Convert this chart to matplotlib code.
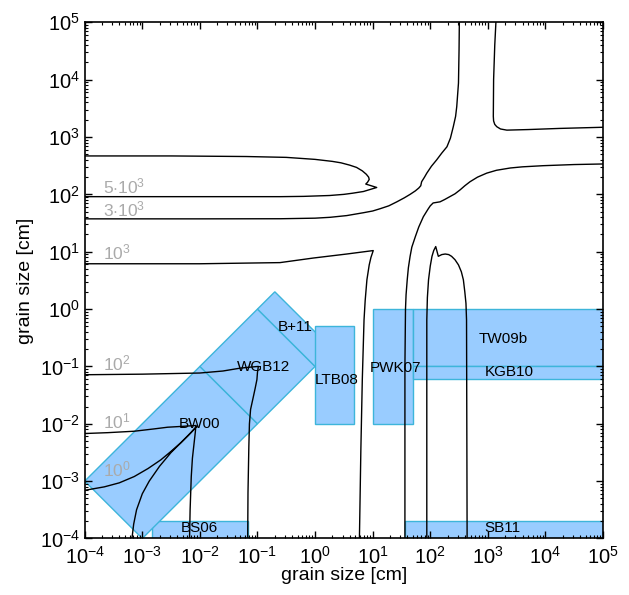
import matplotlib
matplotlib.use('Agg')
import matplotlib.pyplot as plt
import numpy as np
from matplotlib.ticker import LogLocator, NullFormatter

plt.rcParams['font.family'] = ['Liberation Sans', 'DejaVu Sans']
plt.rcParams['mathtext.fontset'] = 'custom'
plt.rcParams['mathtext.rm'] = 'Liberation Sans'
plt.rcParams['mathtext.it'] = 'Liberation Sans:italic'
plt.rcParams['mathtext.bf'] = 'Liberation Sans:bold'

# experiment regions, corners in cm (x grain, y grain)
bs06 = [(1.5e-3, 1e-4), (0.068, 1e-4), (0.068, 2e-4), (1.5e-3, 2e-4)]
bw00 = [(1e-4, 1e-3), (1e-2, 1e-1), (1e-1, 1e-2), (1e-3, 1e-4)]
wgb12 = [(1e-2, 1e-1), (1e-1, 1.0), (1.0, 1e-1), (1e-1, 1e-2)]
b11 = [(1e-1, 1.0), (0.2, 2.0), (2.0, 0.2), (1.0, 1e-1)]
ltb08 = [(1.0, 1e-2), (4.8, 1e-2), (4.8, 0.5), (1.0, 0.5)]
pwk07 = [(10.0, 1e-2), (50.0, 1e-2), (50.0, 1.0), (10.0, 1.0)]
tw09b = [(50.0, 0.1), (1e5, 0.1), (1e5, 1.0), (50.0, 1.0)]
kgb10 = [(50.0, 0.06), (1e5, 0.06), (1e5, 0.1), (50.0, 0.1)]
sb11 = [(36.0, 1e-4), (1e5, 1e-4), (1e5, 2e-4), (36.0, 2e-4)]
regions = [bs06, bw00, wgb12, b11, ltb08, pwk07, tw09b, kgb10, sb11]

region_names = ['BS06', 'BW00', 'WGB12', 'B+11', 'LTB08', 'PWK07', 'TW09b', 'KGB10', 'SB11']
name_x = [0.0098, 0.01, 0.13, 0.45, 2.4, 24.5, 1860, 2340, 1820]
name_y = [1.5e-4, 0.0098, 0.098, 0.48, 0.059, 0.095, 0.30, 0.081, 1.5e-4]

c5e3_x = [-4.0, -2.5, -1.2, -0.5, 0.0, 0.3, 0.45, 0.6, 0.72, 0.82, 0.89, 0.93, 0.94, 0.91, 0.88,
          1.07, 0.84, 0.65, 0.5, 0.25, -0.2, -0.6, -2.5, -4.0]
c5e3_y = [2.67, 2.67, 2.66, 2.645, 2.61, 2.575, 2.55, 2.51, 2.47, 2.41, 2.35, 2.30, 2.26, 2.21, 2.18,
          2.12, 2.05, 2.02, 2.00, 1.98, 1.965, 1.96, 1.96, 1.96]

c3e3_x = [-4.0, -2.0, -0.6, 0.0, 0.26, 0.55, 0.84, 1.0, 1.13, 1.28, 1.42, 1.55, 1.65, 1.74, 1.8, 1.835,
          1.85, 1.9, 1.94, 2.02, 2.11, 2.2, 2.29, 2.35, 2.40, 2.44, 2.46, 2.49, 2.50, 2.505]
c3e3_y = [1.573, 1.573, 1.575, 1.585, 1.60, 1.63, 1.68, 1.71, 1.75, 1.80, 1.87, 1.94, 2.0, 2.06, 2.11, 2.15,
          2.22, 2.30, 2.37, 2.49, 2.60, 2.72, 2.83, 2.98, 3.18, 3.36, 3.53, 3.94, 4.52, 5.0]

cross_x = [5.0, 4.5, 3.96, 3.6, 3.39, 3.15, 2.98, 2.82, 2.69, 2.6, 2.52, 2.43, 2.34, 2.25, 2.17, 2.11,
           2.05, 2.0, 1.96, 1.88, 1.80, 1.74, 1.68, 1.65, 1.62, 1.60, 1.58, 1.57, 1.56, 1.56]
cross_y = [2.53, 2.52, 2.50, 2.48, 2.46, 2.42, 2.37, 2.30, 2.22, 2.15, 2.08, 2.01, 1.96, 1.91, 1.87, 1.86,
           1.85, 1.80, 1.74, 1.61, 1.43, 1.26, 1.08, 0.92, 0.72, 0.51, 0.25, 0.0, -1.0, -4.0]

corner_x = [3.14, 3.12, 3.10, 3.095, 3.10, 3.12, 3.155, 3.22, 3.33, 3.7, 4.25, 5.0]
corner_y = [5.0, 4.6, 4.0, 3.36, 3.28, 3.22, 3.18, 3.14, 3.12, 3.13, 3.15, 3.17]

c1e3_x = [-4.0, -2.0, -0.61, -0.03, 0.55, 1.01, 0.97, 0.94, 0.90, 0.87, 0.85, 0.82, 0.795, 0.77]
c1e3_y = [0.79, 0.79, 0.81, 0.89, 0.96, 1.02, 0.9, 0.77, 0.51, 0.15, -0.19, -1.23, -2.45, -4.0]

arch_x = [1.94, 1.94, 1.95, 1.97, 2.0, 2.03, 2.06, 2.095, 2.14, 2.2, 2.26, 2.32, 2.37, 2.43, 2.49,
          2.54, 2.575, 2.60, 2.62, 2.63, 2.64]
arch_y = [-4.0, -0.19, 0.2, 0.51, 0.75, 0.92, 1.02, 1.09, 0.92, 0.95, 0.96, 0.95, 0.92, 0.86, 0.77,
          0.65, 0.51, 0.30, 0.10, -0.19, -4.0]

c1e2_x = [-4.0, -3.0, -2.0, -1.6, -1.30, -1.1, -0.985, -1.0, -1.01, -1.04, -1.07, -1.12, -1.14, -1.15,
          -1.165, -1.17]
c1e2_y = [-1.145, -1.135, -1.115, -1.08, -1.03, -1.01, -1.0, -1.1, -1.23, -1.38, -1.52, -1.75, -2.0,
          -2.39, -3.2, -4.0]

c1e1_x = [-4.0, -3.6, -3.14, -2.8, -2.56, -2.3, -2.07, -2.08, -2.10, -2.13, -2.15, -2.17, -2.18]
c1e1_y = [-2.17, -2.155, -2.13, -2.09, -2.06, -2.045, -2.03, -2.15, -2.33, -2.6, -2.92, -3.50, -4.0]

c1e0_x = [-4.0, -3.66, -3.4, -3.14, -2.9, -2.68, -2.5, -2.33, -2.2, -2.05, -2.15, -2.3, -2.5, -2.7,
          -2.88, -3.0, -3.1, -3.15, -3.18]
c1e0_y = [-3.16, -3.10, -3.03, -2.92, -2.78, -2.63, -2.48, -2.33, -2.2, -2.04, -2.15, -2.3, -2.5, -2.74,
          -3.0, -3.22, -3.5, -3.75, -4.0]

curves = [(c5e3_x, c5e3_y), (c3e3_x, c3e3_y), (cross_x, cross_y), (corner_x, corner_y),
          (c1e3_x, c1e3_y), (arch_x, arch_y), (c1e2_x, c1e2_y), (c1e1_x, c1e1_y), (c1e0_x, c1e0_y)]

level_labels = [r'$5{\cdot}10^3$', r'$3{\cdot}10^3$', r'$10^3$', r'$10^2$', r'$10^1$', r'$10^0$']
level_y = [2.14, 1.74, 0.98, -0.94, -1.96, -2.79]

fig = plt.figure(figsize=(6.29, 5.95), dpi=100)
ax = fig.add_axes([0.1347, 0.095, 0.824, 0.8675])
ax.set_xscale('log')
ax.set_yscale('log')

for reg in regions:
    xs, ys = zip(*reg)
    ax.fill(xs, ys, facecolor='#99CCFF', edgecolor='#3DB5DA', lw=1.0, zorder=1)

for cx, cy in curves:
    ax.plot(10 ** np.array(cx), 10 ** np.array(cy), color='black', lw=1.0, zorder=2)

for name, x, y in zip(region_names, name_x, name_y):
    ax.text(x, y, name, fontsize=11, ha='center', va='center', zorder=3)

for lab, y in zip(level_labels, level_y):
    ax.text(2.05e-4, 10 ** y, lab, fontsize=12.5, color='#AAAAAA', ha='left', va='center', zorder=3)

ax.set_xlim(1e-4, 1e5)
ax.set_ylim(1e-4, 1e5)
for axis in (ax.xaxis, ax.yaxis):
    axis.set_major_locator(LogLocator(base=10, numticks=20))
    axis.set_minor_locator(LogLocator(base=10, subs=np.arange(2, 10), numticks=20))
    axis.set_minor_formatter(NullFormatter())
ax.tick_params(which='both', direction='in', top=True, right=True, labelsize=14.5)
ax.tick_params(which='major', length=5, width=1)
ax.tick_params(which='minor', length=2.5, width=0.8)
ax.tick_params(axis='x', pad=5)
for s in ax.spines.values():
    s.set_linewidth(1.2)

ax.set_xlabel('grain size [cm]', fontsize=14, labelpad=0)
ax.set_ylabel('grain size [cm]', fontsize=14, labelpad=4)

fig.savefig('out.png', dpi=100)
